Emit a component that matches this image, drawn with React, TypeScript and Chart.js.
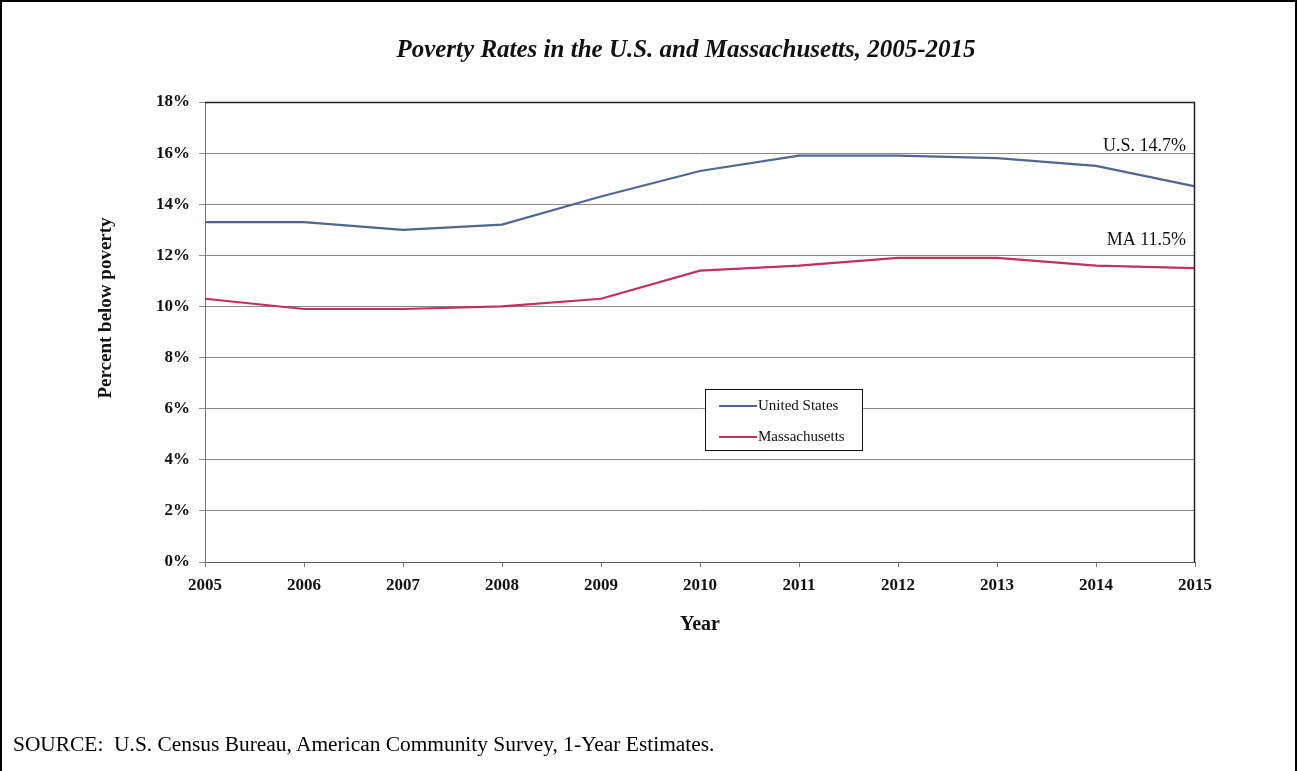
import React, { useEffect, useRef } from "react";
import { Chart, registerables } from "chart.js";

Chart.register(...registerables);

const years = ["2005", "2006", "2007", "2008", "2009", "2010", "2011", "2012", "2013", "2014", "2015"];
const usRates = [13.3, 13.3, 13.0, 13.2, 14.3, 15.3, 15.9, 15.9, 15.8, 15.5, 14.7];
const maRates = [10.3, 9.9, 9.9, 10.0, 10.3, 11.4, 11.6, 11.9, 11.9, 11.6, 11.5];
const seriesNames = ["United States", "Massachusetts"];
const endLabels = ["U.S. 14.7%", "MA 11.5%"];
const yTickValues = [0, 2, 4, 6, 8, 10, 12, 14, 16, 18];
const titleText = "Poverty Rates in the U.S. and Massachusetts, 2005-2015";
const yTitleText = "Percent below poverty";

const US_COLOR = "#4f6791";
const MA_COLOR = "#c2305c";
const SERIF = "'Liberation Serif', 'Times New Roman', serif";

const extrasPlugin = {
  id: "extras",
  afterDraw(chart: any) {
    const { ctx, chartArea, scales } = chart;
    const x = scales.x;
    const y = scales.y;
    ctx.save();
    // plot border top/right
    ctx.strokeStyle = "#222";
    ctx.lineWidth = 1.5;
    ctx.beginPath();
    ctx.moveTo(chartArea.left, chartArea.top + 0.5);
    ctx.lineTo(chartArea.right - 0.5, chartArea.top + 0.5);
    ctx.lineTo(chartArea.right - 0.5, chartArea.bottom);
    ctx.stroke();

    // title
    ctx.fillStyle = "#111";
    ctx.font = `italic bold 25px ${SERIF}`;
    ctx.textAlign = "center";
    ctx.textBaseline = "middle";
    ctx.fillText(titleText, 686, 51);

    // y axis title
    ctx.save();
    ctx.translate(106, 308);
    ctx.rotate(-Math.PI / 2);
    ctx.font = `bold 19px ${SERIF}`;
    ctx.fillText(yTitleText, 0, 0);
    ctx.restore();

    // end labels
    ctx.fillStyle = "#111";
    ctx.font = `18px ${SERIF}`;
    ctx.textAlign = "right";
    ctx.textBaseline = "middle";
    const lastX = x.getPixelForValue(years.length - 1) - 9;
    ctx.fillText(endLabels[0], lastX, y.getPixelForValue(usRates[usRates.length - 1]) - 40);
    ctx.fillText(endLabels[1], lastX, y.getPixelForValue(maRates[maRates.length - 1]) - 28);

    // legend box
    const bx = 705, by = 389, bw = 157, bh = 61;
    ctx.fillStyle = "#fff";
    ctx.fillRect(bx, by, bw, bh);
    ctx.strokeStyle = "#111";
    ctx.lineWidth = 1;
    ctx.strokeRect(bx + 0.5, by + 0.5, bw, bh);
    const colors = [US_COLOR, MA_COLOR];
    ctx.font = `15px ${SERIF}`;
    ctx.textAlign = "left";
    seriesNames.forEach((name, i) => {
      const ly = by + 17 + i * 31;
      ctx.strokeStyle = colors[i];
      ctx.lineWidth = 2;
      ctx.beginPath();
      ctx.moveTo(bx + 14, ly);
      ctx.lineTo(bx + 52, ly);
      ctx.stroke();
      ctx.fillStyle = "#111";
      ctx.fillText(name, bx + 53, ly);
    });
    ctx.restore();
  },
};

export default function App() {
  const ref = useRef<HTMLCanvasElement | null>(null);

  useEffect(() => {
    if (!ref.current) return;
    const chart = new Chart(ref.current, {
      type: "line",
      data: {
        labels: years,
        datasets: [
          {
            label: seriesNames[0],
            data: usRates,
            borderColor: US_COLOR,
            backgroundColor: US_COLOR,
            borderWidth: 2.2,
            pointRadius: 0,
            tension: 0,
          },
          {
            label: seriesNames[1],
            data: maRates,
            borderColor: MA_COLOR,
            backgroundColor: MA_COLOR,
            borderWidth: 2.2,
            pointRadius: 0,
            tension: 0,
          },
        ],
      },
      options: {
        responsive: false,
        animation: false,
        layout: { padding: { left: 0, right: 103, top: 102, bottom: 0 } },
        plugins: {
          legend: { display: false },
          tooltip: { enabled: false },
          title: { display: false },
        },
        scales: {
          x: {
            type: "category",
            offset: false,
            grid: { drawOnChartArea: false, drawTicks: true, tickLength: 5, color: "#777" },
            border: { color: "#555", width: 1 },
            ticks: {
              color: "#111",
              font: { family: SERIF, size: 17, weight: "bold" },
              padding: 8,
              maxRotation: 0,
              autoSkip: false,
            },
            title: {
              display: true,
              text: "Year",
              color: "#111",
              font: { family: SERIF, size: 20, weight: "bold", lineHeight: 1.2 },
              padding: { top: 0, bottom: 134 },
            },
            afterFit(scale: any) {
              scale.height = 209;
            },
          },
          y: {
            min: 0,
            max: 18,
            afterBuildTicks(scale: any) {
              scale.ticks = yTickValues.map((v) => ({ value: v }));
            },
            grid: { color: "#8a8a8a", lineWidth: 1, drawTicks: true, tickLength: 6 },
            border: { color: "#777", width: 1 },
            ticks: {
              color: "#111",
              font: { family: SERIF, size: 17, weight: "bold" },
              padding: 9,
              callback: (v: any) => `${v}%`,
            },
            title: { display: false },
            afterFit(scale: any) {
              scale.width = 205;
            },
          },
        },
      },
      plugins: [extrasPlugin],
    });
    return () => chart.destroy();
  }, []);

  return (
    <div
      style={{
        position: "absolute",
        left: 0,
        top: 0,
        width: 1298,
        height: 771,
        overflow: "hidden",
        background: "#fff",
      }}
    >
      <canvas ref={ref} width={1298} height={771} style={{ position: "absolute", left: 0, top: 0 }} />
      <div
        style={{
          position: "absolute",
          left: 0,
          top: 0,
          width: 1297,
          height: 800,
          boxSizing: "border-box",
          border: "2px solid #000",
          pointerEvents: "none",
        }}
      />
      <div
        style={{
          position: "absolute",
          left: 13,
          top: 733,
          fontFamily: SERIF,
          fontSize: 20,
          color: "#000",
          whiteSpace: "pre",
          transform: "scaleX(1.07)",
          transformOrigin: "left top",
        }}
      >
        {"SOURCE:  U.S. Census Bureau, American Community Survey, 1-Year Estimates."}
      </div>
    </div>
  );
}
